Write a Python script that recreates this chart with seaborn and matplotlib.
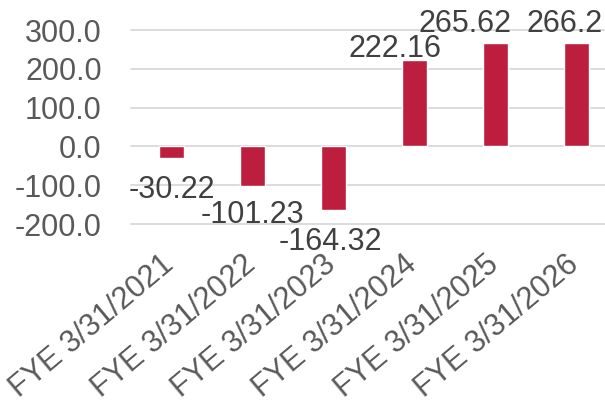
import matplotlib
matplotlib.use("Agg")
import matplotlib.pyplot as plt
import matplotlib.transforms as mtransforms
import seaborn as sns
import pandas as pd
import numpy as np

# Fiscal year categories and their values
categories = ["FYE 3/31/2021", "FYE 3/31/2022", "FYE 3/31/2023",
              "FYE 3/31/2024", "FYE 3/31/2025", "FYE 3/31/2026"]
values = [-30.22, -101.23, -164.32, 222.16, 265.62, 266.2]
value_labels = ["-30.22", "-101.23", "-164.32", "222.16", "265.62", "266.2"]
y_ticks = [-200, -100, 0, 100, 200, 300]

# Per-label nudges for the value annotations (pixels)
label_dx = [0, 0, -3, -20, -31, -12]
label_dy = [-17, -14, -17, 3, 11, 11]

BAR_COLOR = "#BE1E3D"
TICK_COLOR = "#595959"
LABEL_COLOR = "#404040"
GRID_COLOR = "#D9D9D9"
FS = 22

sns.set_theme(style="white")
plt.rcParams["font.family"] = ["Liberation Sans", "DejaVu Sans"]

df = pd.DataFrame({"category": categories, "value": values})

fig = plt.figure(figsize=(6.05, 4.13), dpi=100)
ax = fig.add_axes([131 / 605, (413 - 224) / 413, 474 / 605, 194 / 413])

sns.barplot(data=df, x="category", y="value", color=BAR_COLOR,
            saturation=1, width=0.31, ax=ax, zorder=3)

ax.set_ylim(-200, 300)
ax.set_xlim(-0.5, -0.5 + 474 / 81)

ax.set_yticks(y_ticks)
ax.set_yticklabels([f"{t:.1f}" for t in y_ticks], fontsize=FS, color=TICK_COLOR)
ax.tick_params(axis="y", length=0, pad=21)

for t in y_ticks:
    ax.axhline(t, color=GRID_COLOR, linewidth=1.3, zorder=1, clip_on=False)

# Rotated category labels, right end of the baseline at each category
ax.set_xticks(range(len(categories)))
ax.set_xticklabels(categories, fontsize=FS, color=TICK_COLOR,
                   rotation=40, ha="right", va="baseline", rotation_mode="anchor")
ax.tick_params(axis="x", length=0, pad=31)
shift = mtransforms.ScaledTranslation(4 / 100, 0, fig.dpi_scale_trans)
for lbl in ax.get_xticklabels():
    lbl.set_transform(lbl.get_transform() + shift)

for s in ax.spines.values():
    s.set_visible(False)
ax.set_xlabel("")
ax.set_ylabel("")

for i, (v, txt) in enumerate(zip(values, value_labels)):
    va = "top" if v < 0 else "baseline"
    ax.annotate(txt, xy=(i, v), xytext=(label_dx[i], label_dy[i]),
                textcoords="offset pixels", ha="center", va=va,
                fontsize=FS, color=LABEL_COLOR, annotation_clip=False,
                zorder=4)

fig.savefig("out.png", dpi=100)
